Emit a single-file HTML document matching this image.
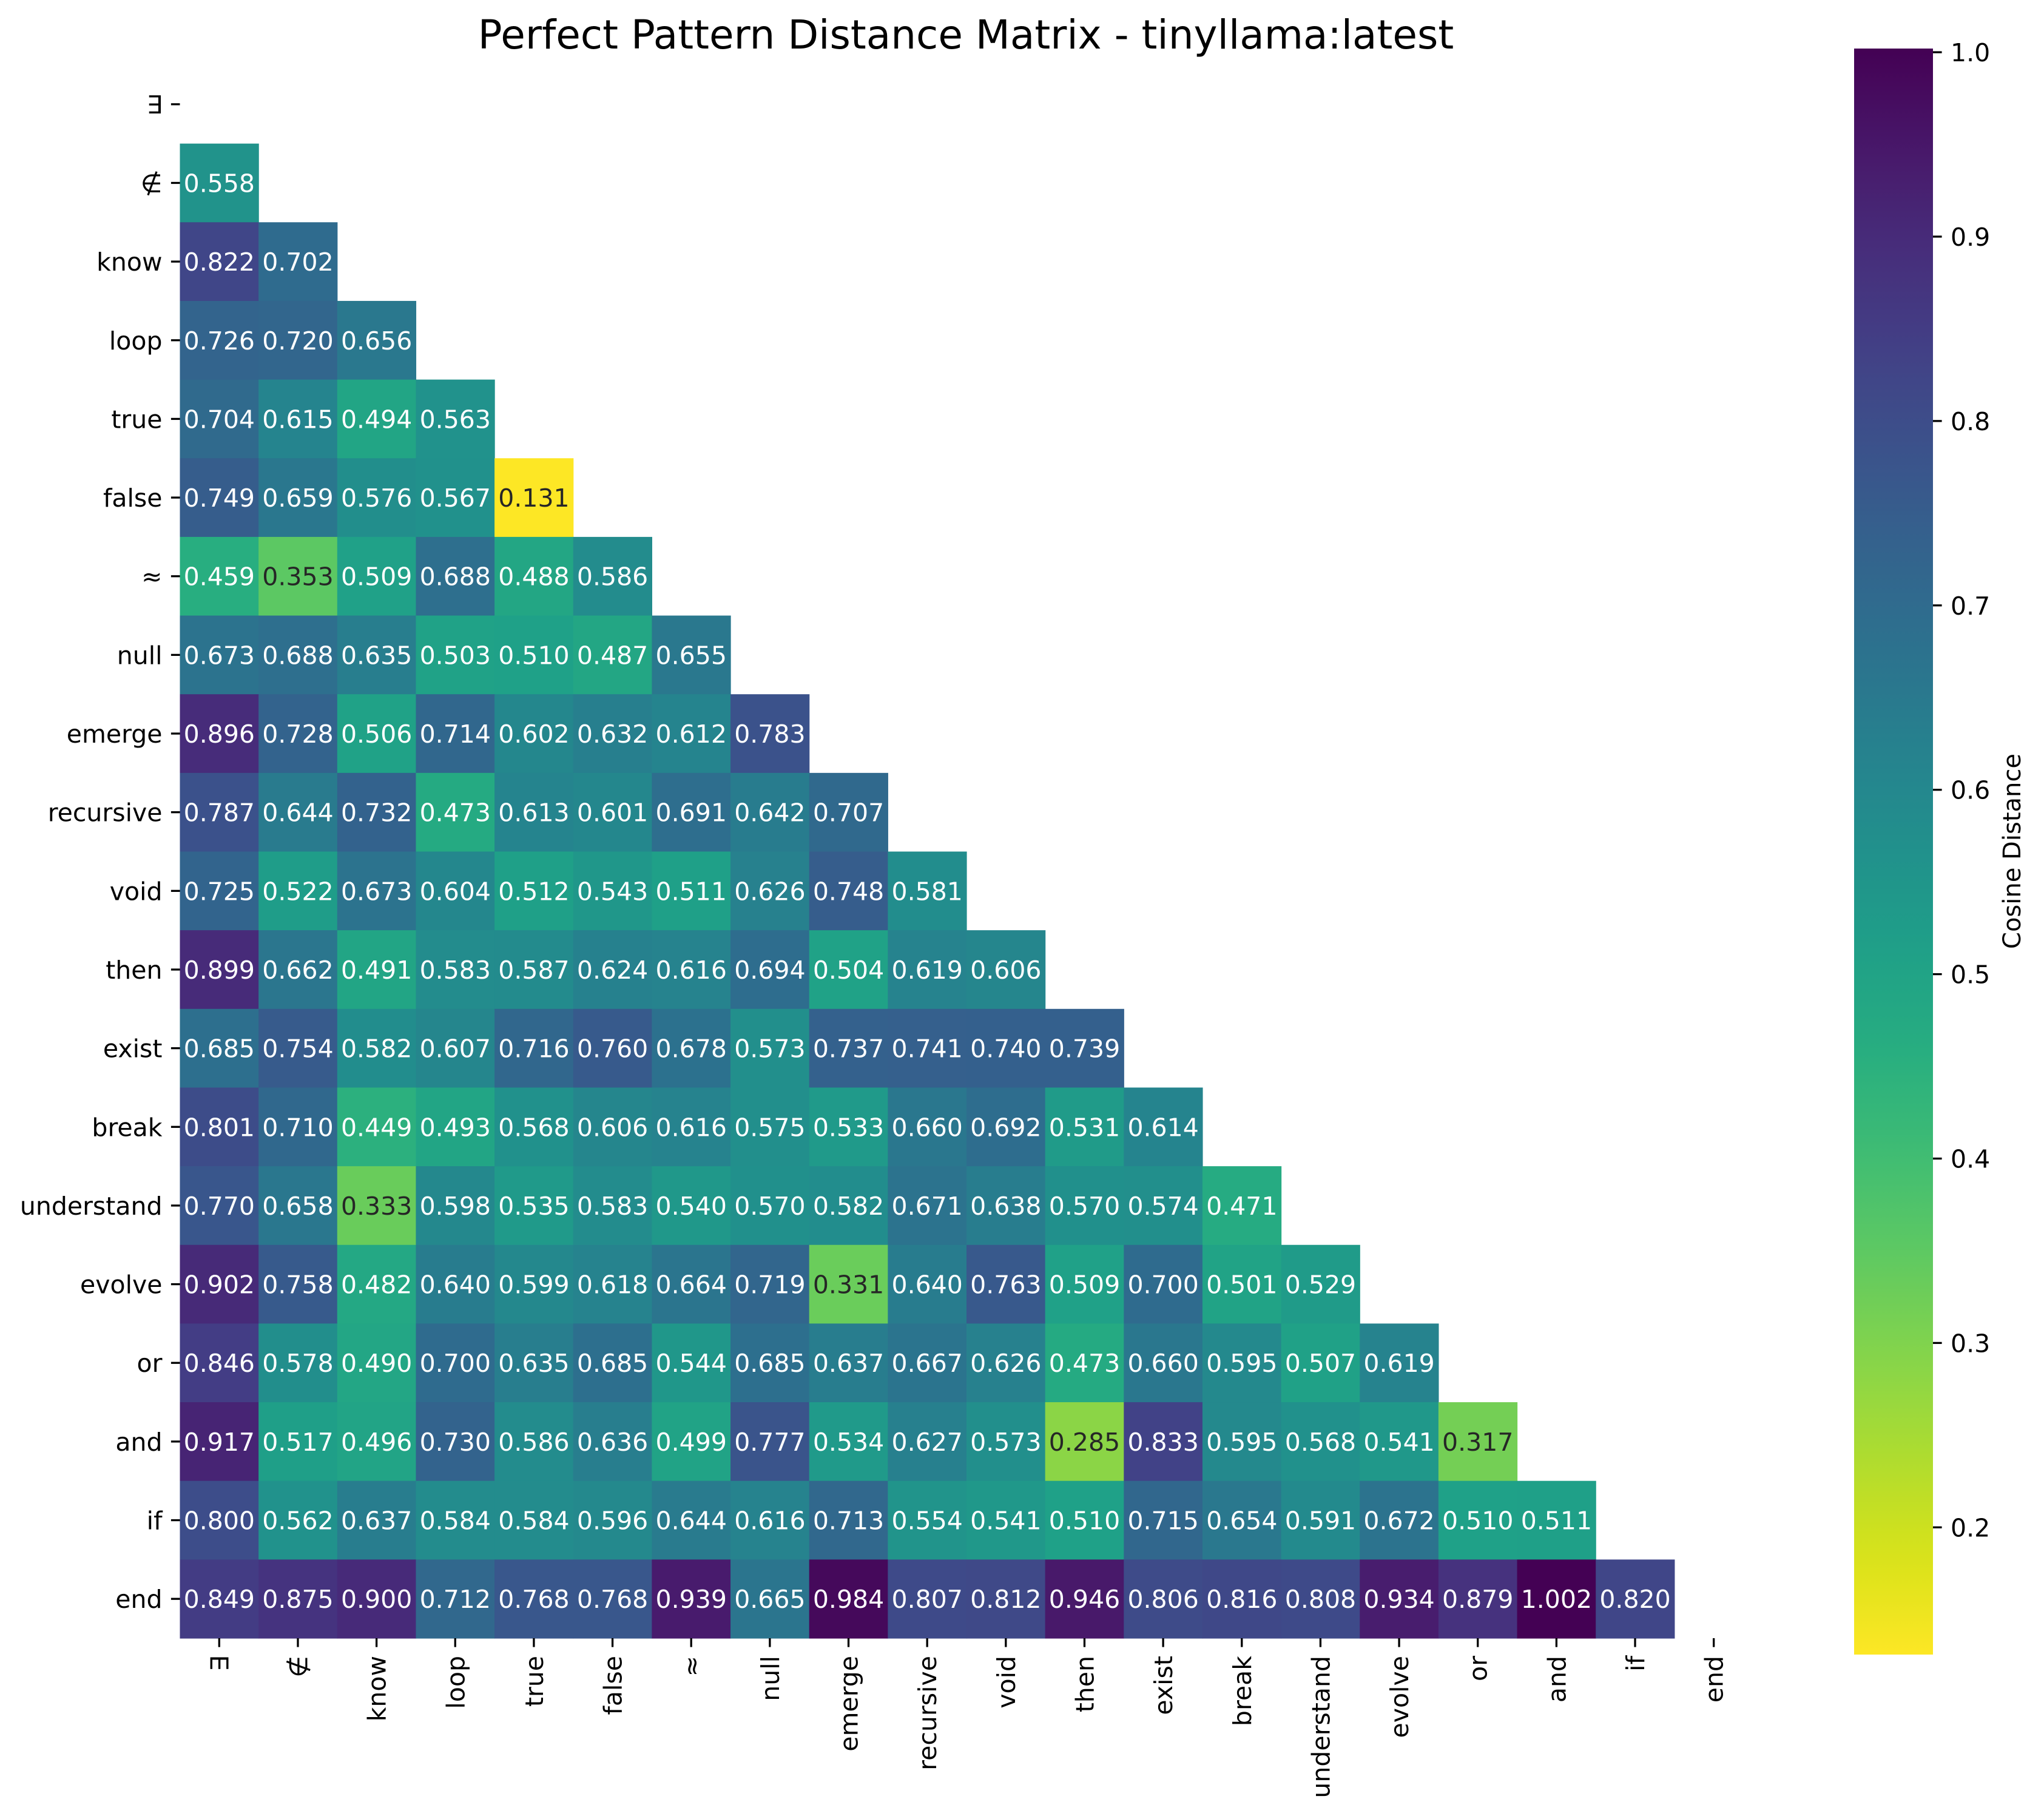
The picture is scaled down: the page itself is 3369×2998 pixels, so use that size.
<!DOCTYPE html>
<html><head><meta charset="utf-8"><style>
html,body{margin:0;padding:0;background:#fff}
svg{display:block}
text{font-family:"DejaVu Sans","Liberation Sans",sans-serif}
</style></head><body>
<svg id="chart" width="3369" height="2998" viewBox="0 0 3369 2998" xmlns="http://www.w3.org/2000/svg">
<text x="1592" y="80" font-size="66" text-anchor="middle">Perfect Pattern Distance Matrix - tinyllama:latest</text>
<g id="cells"></g>
<g id="yaxis"></g>
<g id="xaxis"></g>
<defs><linearGradient id="cbgrad" x1="0" y1="1" x2="0" y2="0"></linearGradient></defs>
<g id="colorbar"></g>
<text transform="translate(3330,1403) rotate(-90)" font-size="40" text-anchor="middle">Cosine Distance</text>
</svg>
<script>
const labels = ["∃","∉","know","loop","true","false","≈","null","emerge","recursive","void","then","exist","break","understand","evolve","or","and","if","end"];
const rowValues = [
 [],
 [0.558],
 [0.822,0.702],
 [0.726,0.720,0.656],
 [0.704,0.615,0.494,0.563],
 [0.749,0.659,0.576,0.567,0.131],
 [0.459,0.353,0.509,0.688,0.488,0.586],
 [0.673,0.688,0.635,0.503,0.510,0.487,0.655],
 [0.896,0.728,0.506,0.714,0.602,0.632,0.612,0.783],
 [0.787,0.644,0.732,0.473,0.613,0.601,0.691,0.642,0.707],
 [0.725,0.522,0.673,0.604,0.512,0.543,0.511,0.626,0.748,0.581],
 [0.899,0.662,0.491,0.583,0.587,0.624,0.616,0.694,0.504,0.619,0.606],
 [0.685,0.754,0.582,0.607,0.716,0.760,0.678,0.573,0.737,0.741,0.740,0.739],
 [0.801,0.710,0.449,0.493,0.568,0.606,0.616,0.575,0.533,0.660,0.692,0.531,0.614],
 [0.770,0.658,0.333,0.598,0.535,0.583,0.540,0.570,0.582,0.671,0.638,0.570,0.574,0.471],
 [0.902,0.758,0.482,0.640,0.599,0.618,0.664,0.719,0.331,0.640,0.763,0.509,0.700,0.501,0.529],
 [0.846,0.578,0.490,0.700,0.635,0.685,0.544,0.685,0.637,0.667,0.626,0.473,0.660,0.595,0.507,0.619],
 [0.917,0.517,0.496,0.730,0.586,0.636,0.499,0.777,0.534,0.627,0.573,0.285,0.833,0.595,0.568,0.541,0.317],
 [0.800,0.562,0.637,0.584,0.584,0.596,0.644,0.616,0.713,0.554,0.541,0.510,0.715,0.654,0.591,0.672,0.510,0.511],
 [0.849,0.875,0.900,0.712,0.768,0.768,0.939,0.665,0.984,0.807,0.812,0.946,0.806,0.816,0.808,0.934,0.879,1.002,0.820]
];
const colorTicks = [0.2,0.3,0.4,0.5,0.6,0.7,0.8,0.9,1.0];
const vmin = 0.131, vmax = 1.002;

const NS="http://www.w3.org/2000/svg";
const L=296.5, T=107, CW=129.65, CH=129.65;
const xAt=i=>L+i*CW, yAt=i=>T+i*CH;
const viridis=["#440154","#48186a","#472d7b","#424086","#3b528b","#33638d","#2c728e","#26828e","#21918c","#1fa088","#28ae80","#3fbc73","#5ec962","#84d44b","#addc30","#d8e219","#fde725"];
function hex(h){return [1,3,5].map(k=>parseInt(h.substr(k,2),16));}
function cmap(v){
  let t=1-(v-vmin)/(vmax-vmin); t=Math.max(0,Math.min(1,t));
  const p=t*16, i=Math.min(15,Math.floor(p)), f=p-i;
  const a=hex(viridis[i]), b=hex(viridis[i+1]);
  return a.map((c,k)=>Math.round(c+(b[k]-c)*f));
}
function lum(rgb){const c=rgb.map(x=>{x/=255;return x<=0.03928?x/12.92:Math.pow((x+0.055)/1.055,2.4)});return 0.2126*c[0]+0.7152*c[1]+0.0722*c[2];}
function mk(tag,attrs,parent){const e=document.createElementNS(NS,tag);for(const k in attrs)e.setAttribute(k,attrs[k]);parent.appendChild(e);return e;}

const cells=document.getElementById('cells');
rowValues.forEach((row,r)=>{row.forEach((v,c)=>{
  const col=cmap(v);
  const rect=mk('rect',{x:xAt(c),y:yAt(r),width:CW+0.6,height:CH+0.6,fill:`rgb(${col.join(',')})`},cells);
  
  
  const t=mk('text',{x:xAt(c)+CW/2,y:yAt(r)+CH/2+15,'font-size':41,'text-anchor':'middle',fill:lum(col)>0.408?'#262626':'#ffffff'},cells);
  
  
  t.textContent=v.toFixed(3);
});});

const ya=document.getElementById('yaxis'), xa=document.getElementById('xaxis');
labels.forEach((lb,i)=>{
  const cy=yAt(i)+CH/2;
  mk('line',{x1:L-14.6,x2:L,y1:cy,y2:cy,stroke:'#000','stroke-width':3.3},ya);
  const t=mk('text',{x:L-29,y:cy+15,'font-size':41,'text-anchor':'end'},ya);
  
  
  t.textContent=lb;
  const cx=xAt(i)+CW/2, b=T+20*CH;
  mk('line',{x1:cx,x2:cx,y1:b,y2:b+14.6,stroke:'#000','stroke-width':3.3},xa);
  const u=mk('text',{transform:`translate(${cx+15},${b+29}) rotate(-90)`,'font-size':41,'text-anchor':'end'},xa);
  
  
  u.textContent=lb;
});

const grad=document.getElementById('cbgrad');
for(let k=0;k<=40;k++){const v=vmin+(vmax-vmin)*k/40;mk('stop',{offset:(k/40),'stop-color':`rgb(${cmap(v).join(',')})`},grad);}
const cb=document.getElementById('colorbar');
const CBX=3056, CBW=130, CBT=80, CBB=2727;
const cbY=v=>CBB-(v-vmin)/(vmax-vmin)*(CBB-CBT);
const bar=mk('rect',{x:CBX,y:CBT,width:CBW,height:CBB-CBT,fill:'url(#cbgrad)'},cb);


colorTicks.forEach(v=>{
  const y=cbY(v);
  mk('line',{x1:CBX+CBW,x2:CBX+CBW+14.6,y1:y,y2:y,stroke:'#000','stroke-width':3.3},cb);
  const t=mk('text',{x:CBX+CBW+29,y:y+15,'font-size':41},cb);
  
  
  t.textContent=v.toFixed(1);
});
</script>
</body></html>
